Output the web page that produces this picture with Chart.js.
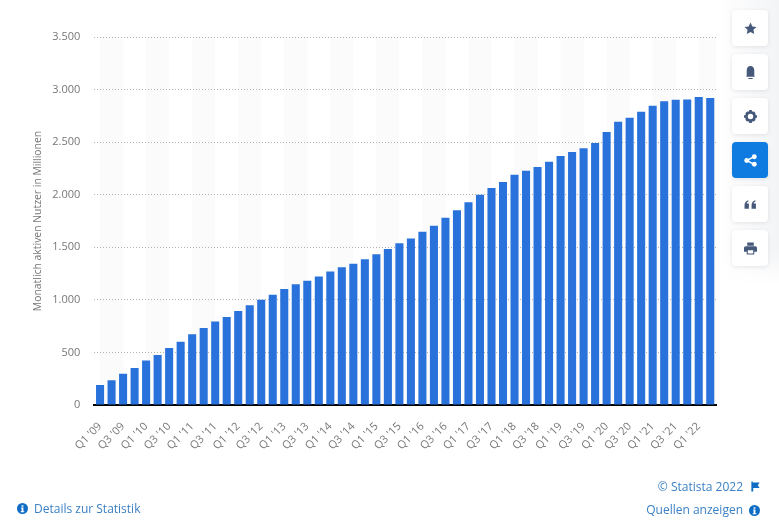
<!DOCTYPE html>
<html lang="de"><head><meta charset="utf-8">
<script src="https://cdn.jsdelivr.net/npm/chart.js@4"></script>
<style>
html,body{margin:0;padding:0;background:#fff;width:779px;height:531px;overflow:hidden;font-family:"Open Sans",sans-serif}
#wrap{position:absolute;left:0;top:0;width:779px;height:531px}
#side{position:absolute;left:719px;top:0;width:60px;height:285px;background:linear-gradient(90deg,#fff 0%,#f3f4f6 100%);-webkit-mask-image:linear-gradient(180deg,#000 88%,transparent)}
.btn{position:absolute;left:732px;width:36px;height:36px;border-radius:4px;background:#fff;box-shadow:0 1px 4px rgba(60,70,90,.13);display:flex;align-items:center;justify-content:center}
.btn.on{background:#0f7be0}
.btn svg{width:13px;height:13px;fill:#46597a}
.btn.on svg{fill:#fff}
.t{position:absolute;font-size:12px;line-height:16px;color:#3b80c4;white-space:nowrap}
.ic{position:absolute;width:11px;height:11px}
</style></head><body>
<div id="wrap"><canvas id="c" width="779" height="531"></canvas></div>
<div id="side"></div>
<div class="btn" style="top:10px"><svg viewBox="0 0 24 24"><path d="M12 1l3.400 7.200 7.600 1-5.600 5.300 1.500 7.800L12 18.400 5.100 22.300l1.500-7.800L1 9.200l7.600-1z"/></svg></div>
<div class="btn" style="top:54px"><svg viewBox="0 0 24 24"><path d="M12 0c-4.500 0-7 3.500-7 8v10l-1 2h16l-1-2V8c0-4.500-2.500-8-7-8zM8 22h8v2H8z"/></svg></div>
<div class="btn" style="top:98px"><svg viewBox="0 0 24 24"><circle cx="12" cy="12" r="7.500" fill="none" stroke="#46597a" stroke-width="5"/><path d="M9.500 0h5v5h-5zM9.500 19h5v5h-5zM0 9.500h5v5H0zM19 9.500h5v5h-5zM2.500 6l3.500-3.500 3 3-3.500 3.500zM15 18.500l3.500-3.500 3 3-3.500 3.500zM18 2.500l3.500 3.500-3 3-3.500-3.500zM6 21.500L2.500 18l3-3L9 18.500z"/></svg></div>
<div class="btn on" style="top:142px"><svg viewBox="0 0 24 24"><circle cx="19" cy="5" r="4.500"/><circle cx="19" cy="19" r="4.500"/><circle cx="5" cy="12" r="4.500"/><path d="M5 10.500L18 3.500l1 2.500L6 13.500zM6 10.500l13 7.500-1 2.500L5 13.500z"/></svg></div>
<div class="btn" style="top:186px"><svg viewBox="0 0 24 24"><path d="M1 13c0-4.500 2.500-8 7-9v3c-2 .5-3 1.500-3 3h4v10H1zM14 13c0-4.500 2.500-8 7-9v3c-2 .5-3 1.500-3 3h4v10h-8z"/></svg></div>
<div class="btn" style="top:230px"><svg viewBox="0 0 24 24"><path fill-rule="evenodd" d="M6 1h12v6H6zM3 8h18a3 3 0 0 1 3 3v7h-5v5H5v-5H0v-7a3 3 0 0 1 3-3zM7 15v6h10v-6z"/></svg></div>
<div class="t" style="right:36px;top:479px">© Statista 2022</div>
<svg class="ic" style="left:750px;top:481px" viewBox="0 0 24 24"><path fill="#0f6cc4" d="M3 1h3v2h15l-4 6 4 6H7v8H3z"/></svg>
<div class="t" style="right:36px;top:502px">Quellen anzeigen</div>
<svg class="ic" style="left:749px;top:505px" viewBox="0 0 24 24"><circle cx="12" cy="12" r="12" fill="#0f6cc4"/><path fill="#fff" d="M10 5h4v3h-4zM9 10h5v8h2v2H8v-2h2v-6H9z"/></svg>
<div class="t" style="left:34px;top:501px">Details zur Statistik</div>
<svg class="ic" style="left:17px;top:503px" viewBox="0 0 24 24"><circle cx="12" cy="12" r="12" fill="#0f6cc4"/><path fill="#fff" d="M10 5h4v3h-4zM9 10h5v8h2v2H8v-2h2v-6H9z"/></svg>
<script>
const categories=["Q1 '09","Q2 '09","Q3 '09","Q4 '09","Q1 '10","Q2 '10","Q3 '10","Q4 '10","Q1 '11","Q2 '11","Q3 '11","Q4 '11","Q1 '12","Q2 '12","Q3 '12","Q4 '12","Q1 '13","Q2 '13","Q3 '13","Q4 '13","Q1 '14","Q2 '14","Q3 '14","Q4 '14","Q1 '15","Q2 '15","Q3 '15","Q4 '15","Q1 '16","Q2 '16","Q3 '16","Q4 '16","Q1 '17","Q2 '17","Q3 '17","Q4 '17","Q1 '18","Q2 '18","Q3 '18","Q4 '18","Q1 '19","Q2 '19","Q3 '19","Q4 '19","Q1 '20","Q2 '20","Q3 '20","Q4 '20","Q1 '21","Q2 '21","Q3 '21","Q4 '21","Q1 '22","Q2 '22"];
const users=[190,235,298,353,424,475,543,601,673,732,793,838,894,948,1000,1049,1103,1148,1182,1221,1269,1310,1343,1386,1434,1483,1538,1584,1647,1705,1781,1853,1929,1999,2065,2122,2189,2227,2264,2313,2368,2407,2442,2491,2596,2694,2733,2790,2846,2888,2903,2905,2929,2920];
const yTitle="Monatlich aktiven Nutzer in Millionen";
const bands={id:'bands',beforeDraw(ch){
  const {ctx,chartArea:a,scales:{x}}=ch;ctx.save();ctx.fillStyle='#fbfbfb';
  for(let i=0;i<categories.length;i+=4){
    const l=x.getPixelForValue(i),r=i+2<categories.length?x.getPixelForValue(i+2):a.right;
    ctx.fillRect(l,a.top,r-l,a.bottom-a.top);
  }
  ctx.restore();
}};
new Chart(document.getElementById('c'),{
  type:'bar',
  data:{labels:categories,datasets:[{data:users,backgroundColor:'#2a72db',borderWidth:0,barPercentage:0.7,categoryPercentage:1}]},
  plugins:[bands],
  options:{responsive:false,animation:false,
    layout:{padding:{left:0,right:63,top:37,bottom:0}},
    plugins:{legend:{display:false},tooltip:{enabled:false}},
    scales:{
      x:{
        afterFit(s){s.height=126},
        grid:{display:false,drawTicks:false},
        border:{color:'#000',width:2},
        ticks:{autoSkip:false,maxRotation:45,minRotation:45,padding:15,color:'#777',
          font:{family:'"Open Sans"',size:11},
          callback(v,i){return i%2===0?categories[i]:''}}
      },
      y:{
        min:0,max:3500,
        afterFit(s){s.width=94.3},
        border:{display:false,dash:[1,2]},
        grid:{color:'#b5b5b5',lineWidth:1,drawTicks:false},
        title:{display:true,text:yTitle,color:'#777',font:{family:'"Open Sans"',size:10.4},padding:{top:32,bottom:0}},
        ticks:{stepSize:500,padding:14,color:'#777',font:{family:'"Open Sans"',size:11},
          callback(v){return String(v).replace(/\B(?=(\d{3})+$)/g,'.')}}
      }
    }
  }
});
</script>
</body></html>
